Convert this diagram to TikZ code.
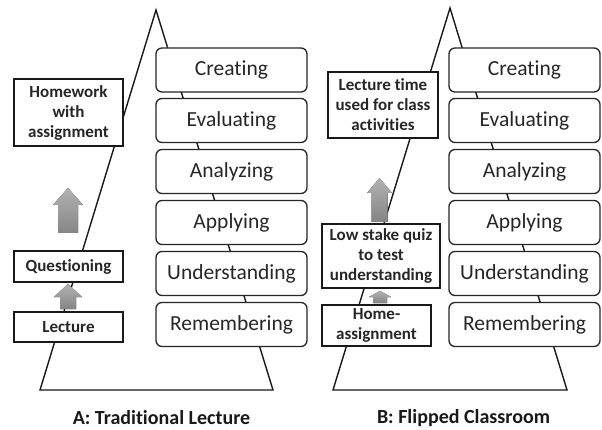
\documentclass[tikz,border=0pt]{standalone}
\usepackage{fontspec}
\setmainfont{Carlito}[Ligatures=NoCommon]
\begin{document}
\begin{tikzpicture}[x=1pt,y=-1pt,
  bloom/.style={draw=black!85, line width=1.3pt, fill=white, rounded corners=6pt,
    minimum width=151pt, minimum height=44pt, inner sep=0pt,
    font=\fontsize{21.5}{24}\selectfont, text=black!85},
  actbox/.style={draw=black!90, line width=1.2pt, fill=white, inner sep=0pt,
    align=center, font=\bfseries\fontsize{17}{20}\selectfont, text=black!85},
  pyr/.style={draw=black!90, line width=1.4pt},
  blockarr/.style={top color=black!30, bottom color=black!48, draw=none},
  title/.style={font=\bfseries\fontsize{20}{24}\selectfont, text=black!90, inner sep=0pt}]
\useasboundingbox (0,0) rectangle (602,430);
\fill[white] (0,0) rectangle (602,430);
% ---------- pyramid outlines ----------
\coordinate (apexA) at (156,10);
\coordinate (blA) at (40,390);
\coordinate (brA) at (273,390);
\coordinate (apexB) at (450,8);
\coordinate (blB) at (333,390);
\coordinate (brB) at (567,390);
\draw[pyr] (apexA) -- (blA) -- (brA) -- cycle;
\draw[pyr] (apexB) -- (blB) -- (brB) -- cycle;
% ---------- Bloom levels A ----------
\node[bloom] (cA) at (231.5,70) {Creating};
\node[bloom] (eA) at (231.5,120.5) {Evaluating};
\node[bloom] (anA) at (231.5,171.5) {Analyzing};
\node[bloom] (apA) at (231.5,222.5) {Applying};
\node[bloom] (uA) at (231.5,273.5) {Understanding};
\node[bloom] (rA) at (231.5,324.5) {Remembering};
% ---------- Bloom levels B ----------
\node[bloom] (cB) at (524.5,70) {Creating};
\node[bloom] (eB) at (524.5,120.5) {Evaluating};
\node[bloom] (anB) at (524.5,171.5) {Analyzing};
\node[bloom] (apB) at (524.5,222.5) {Applying};
\node[bloom] (uB) at (524.5,273.5) {Understanding};
\node[bloom] (rB) at (524.5,324.5) {Remembering};
% ---------- activities A ----------
\node[actbox, minimum width=109pt, minimum height=67pt] (hwA) at (68.5,112.5) {Homework\\with\\assignment};
\node[actbox, minimum width=109pt, minimum height=31pt] (qA) at (68.5,266.5) {Questioning};
\node[actbox, minimum width=109pt, minimum height=30pt] (lA) at (68.5,327) {Lecture};
% ---------- activities B ----------
\node[actbox, minimum width=110pt, minimum height=66pt] (ltB) at (383,105) {Lecture time\\used for class\\activities};
\node[actbox, minimum width=118pt, minimum height=64pt] (qzB) at (381,256) {Low stake quiz\\to test\\understanding};
\node[actbox, minimum width=109pt, minimum height=41pt] (hmB) at (376.5,325.5) {Home-\\assignment};
% ---------- block arrows ----------
\newcommand\myUpArrow[6]{% cx, top, headbase, bottom, headhalf, shafthalf
  \fill[blockarr] (#1,#2) -- ({#1+#5},#3) -- ({#1+#6},#3) -- ({#1+#6},#4)
    -- ({#1-#6},#4) -- ({#1-#6},#3) -- ({#1-#5},#3) -- cycle;}
\myUpArrow{68}{188}{205}{233}{15}{10}
\myUpArrow{68}{284}{297}{309}{14}{8}
\myUpArrow{379.5}{178}{193}{222}{12.5}{8}
\myUpArrow{380}{291}{297}{303}{11}{7}
% ---------- titles ----------
\node[title] (tA) at (161.5,418) {A: Traditional Lecture};
\node[title] (tB) at (463.5,418) {B: Flipped Classroom};
\end{tikzpicture}
\end{document}
